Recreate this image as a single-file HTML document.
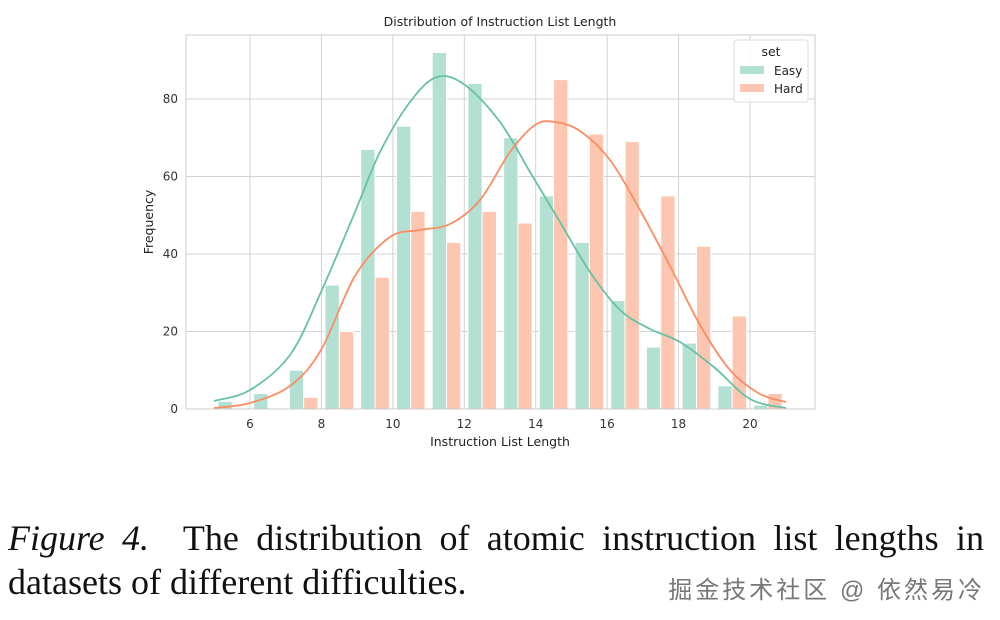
<!DOCTYPE html>
<html><head><meta charset="utf-8"><style>
body{margin:0;background:#fff;width:1000px;height:620px;overflow:hidden;position:relative}
svg{position:absolute;left:0;top:0}
.cap{position:absolute;left:8px;width:976px;font-family:"Liberation Serif",serif;font-size:36px;color:#111;line-height:46px;white-space:nowrap}
.l1{top:515px;text-align:justify;text-align-last:justify}
.l2{top:559px}
.wm{position:absolute;right:15px;top:570px;font-family:"Liberation Sans","Noto Sans CJK SC",sans-serif;font-size:24px;letter-spacing:3px;color:#777}
</style></head><body>
<svg id="s" width="1000" height="470" font-family="DejaVu Sans, sans-serif">
<g id="grid" stroke="#d3d3d3" stroke-width="1"></g>
<g id="bars"></g>
<path id="ke" fill="none" stroke="#66c2a5" stroke-width="1.8"/>
<path id="kh" fill="none" stroke="#fc8d62" stroke-width="1.8"/>
<rect x="186" y="35" width="629" height="374" fill="none" stroke="#ccc"/>
<g id="ticks" font-size="12" fill="#333"></g>
<text x="500" y="26" font-size="12.5" text-anchor="middle" fill="#222">Distribution of Instruction List Length</text>
<text x="500" y="446" font-size="12.5" text-anchor="middle" fill="#222">Instruction List Length</text>
<text transform="translate(153,222) rotate(-90)" font-size="12.5" text-anchor="middle" fill="#222">Frequency</text>
<rect x="734" y="40" width="74" height="62" rx="3" fill="#fff" fill-opacity="0.85" stroke="#ddd"/>
<text x="771" y="56" font-size="12.5" text-anchor="middle" fill="#222">set</text>
<rect x="740" y="66" width="24" height="8" fill="#b2e0d2"/>
<rect x="740" y="84" width="24" height="8" fill="#fdc6b0"/>
<text x="774" y="75" font-size="12" fill="#222">Easy</text>
<text x="774" y="93" font-size="12" fill="#222">Hard</text>
</svg>
<div class="cap l1"><i>Figure 4.</i>&nbsp; The distribution of atomic instruction list lengths in</div>
<div class="cap l2">datasets of different difficulties.</div>
<div class="wm">掘金技术社区 @ 依然易冷</div>
<script>
const X=v=>250+(v-6)*500/14, Y=v=>409-v*3.875, ns="http://www.w3.org/2000/svg";
function el(p,t,a){const e=document.createElementNS(ns,t);for(const k in a)e.setAttribute(k,a[k]);document.getElementById(p).appendChild(e);return e;}
for(let v=6;v<=20;v+=2){el("grid","line",{x1:X(v),x2:X(v),y1:35,y2:409});const t=el("ticks","text",{x:X(v),y:428,"text-anchor":"middle"});t.textContent=v;}
for(let v=0;v<=80;v+=20){el("grid","line",{x1:186,x2:815,y1:Y(v),y2:Y(v)});const t=el("ticks","text",{x:178,y:Y(v)+4,"text-anchor":"end"});t.textContent=v;}
const E=[2,4,10,32,67,73,92,84,70,55,43,28,16,17,6,1],H=[0,0,3,20,34,51,43,51,48,85,71,69,55,42,24,4];
for(let i=0;i<16;i++){const x0=X(5+i)+3.6,w=14.3;
el("bars","rect",{x:x0,y:Y(E[i]),width:w,height:E[i]*3.875,fill:"#b2e0d2",stroke:"#fff","stroke-width":1});
if(H[i])el("bars","rect",{x:x0+w,y:Y(H[i]),width:w,height:H[i]*3.875,fill:"#fdc6b0",stroke:"#fff","stroke-width":1});}
function cr(p){let d="M"+p[0];for(let i=0;i<p.length-1;i++){const a=p[i-1]||p[i],b=p[i],c=p[i+1],e=p[i+2]||c;
d+=` C${b[0]+(c[0]-a[0])/6},${b[1]+(c[1]-a[1])/6} ${c[0]-(e[0]-b[0])/6},${c[1]-(e[1]-b[1])/6} ${c[0]},${c[1]}`;}return d;}
document.getElementById("ke").setAttribute("d",cr([[214,401],[250,390],[290,355],[321,292],[355,212],[380,152],[410,102],[437,77],[465,85],[500,122],[530,172],[560,222],[590,272],[620,310],[650,329],[680,342],[715,368],[750,399],[786,408]]));
document.getElementById("kh").setAttribute("d",cr([[214,408],[250,403],[290,386],[321,350],[355,276],[390,237],[420,230],[450,224],[480,200],[510,152],[535,125],[555,122],[580,131],[610,160],[640,210],[670,266],[700,325],[730,370],[760,394],[786,402]]));
</script>
</body></html>
